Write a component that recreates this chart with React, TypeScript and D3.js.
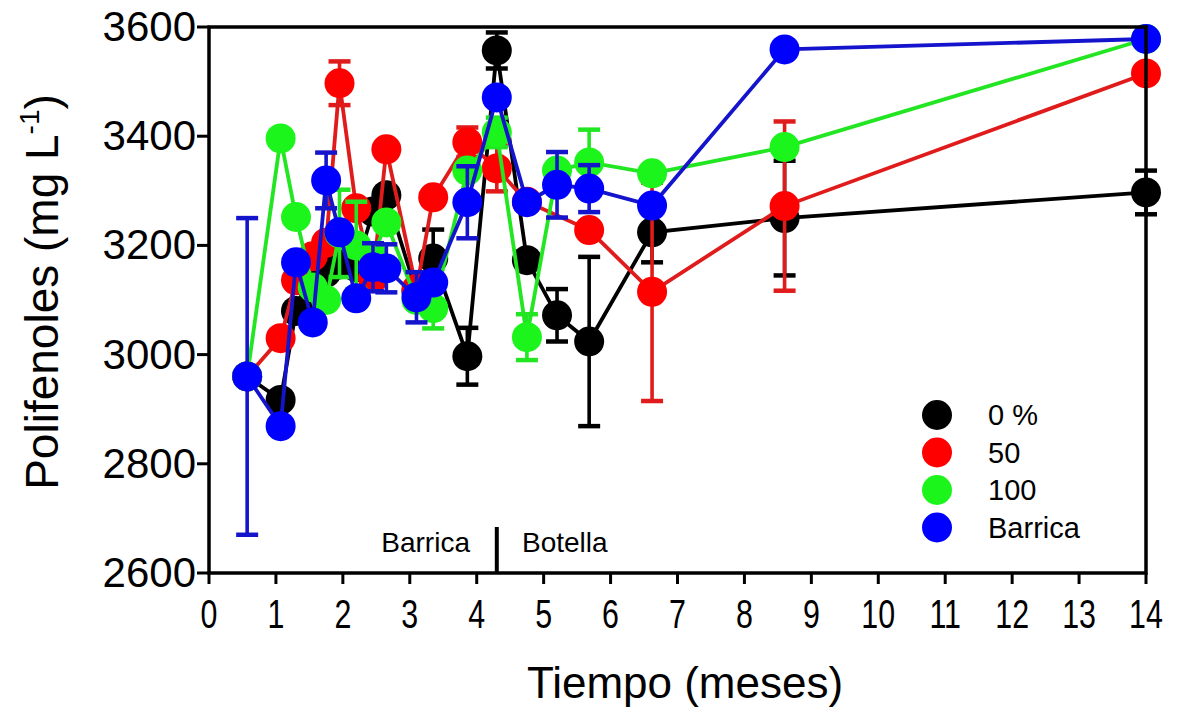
import React from "react";
import * as d3 from "d3";

const months = [0.57, 1.07, 1.3, 1.55, 1.75, 1.95, 2.2, 2.45, 2.65, 3.1, 3.35, 3.86, 4.3, 4.75, 5.2, 5.68, 6.62, 8.6, 14];

const black = [2960, 2917, 3080, 3096, 3150, 3165, 3160, 3262, 3292, 3115, 3176, 2997, 3557, 3173, 3072, 3024, 3224, 3250, 3297];
const blackErr = [0, 0, 0, 0, 0, 0, 0, 0, 0, 0, 53, 52, 33, 0, 48, 155, 55, 105, 40];

const red = [2960, 3030, 3136, 3180, 3205, 3497, 3268, 3140, 3376, 3120, 3288, 3389, 3341, 3280, null, 3228, 3115, 3272, 3515];
const redErr = [0, 0, 0, 0, 0, 40, 0, 0, 0, 0, 0, 27, 42, 0, 0, 0, 200, 155, 0];

const green = [2960, 3396, 3252, 3123, 3100, 3222, 3200, 3180, 3242, 3100, 3085, 3337, 3407, 3032, 3337, 3352, 3332, 3380, 3578];
const greenErr = [0, 0, 0, 0, 0, 80, 80, 0, 0, 0, 37, 0, 27, 42, 0, 60, 0, 0, 0];

const blue = [2960, 2869, 3169, 3059, 3319, 3224, 3103, 3160, 3158, 3105, 3132, 3279, 3471, 3279, 3311, 3304, 3273, 3559, 3578];
const blueErr = [290, 0, 0, 0, 51, 0, 0, 44, 44, 46, 0, 66, 0, 0, 60, 43, 0, 0, 0];

const seriesNames = ["0 %", "50", "100", "Barrica"];
const xTicks = [0, 1, 2, 3, 4, 5, 6, 7, 8, 9, 10, 11, 12, 13, 14];
const yTicks = [2600, 2800, 3000, 3200, 3400, 3600];
const divider = 4.3;

type Pt = { t: number; v: number; e: number };

const series = [
  { name: seriesNames[0], values: black, err: blackErr, fill: "#000000", line: "#000000" },
  { name: seriesNames[1], values: red, err: redErr, fill: "#ff0000", line: "#e01b1b" },
  { name: seriesNames[2], values: green, err: greenErr, fill: "#1cf51c", line: "#22e622" },
  { name: seriesNames[3], values: blue, err: blueErr, fill: "#0000ff", line: "#1414cc" },
].map((s) => ({
  ...s,
  pts: s.values
    .map((v, i) => (v == null ? null : { t: months[i], v: v as number, e: s.err[i] }))
    .filter((p) => p !== null) as Pt[],
}));

export default function App() {
  const W = 1180, H = 708;
  const x = d3.scaleLinear().domain([0, 14]).range([209, 1146]);
  const y = d3.scaleLinear().domain([2600, 3600]).range([573, 27]);
  const font = "'Liberation Sans', Arial, sans-serif";
  const r = 15;
  const line = d3.line<Pt>().x((p) => x(p.t)).y((p) => y(p.v));

  return (
    <svg width={W} height={H} style={{ position: "absolute", left: 0, top: 0, background: "#fff" }} fontFamily={font}>
      {series.map((s) => (
        <g key={s.name}>
          <path d={line(s.pts) || ""} fill="none" stroke={s.line} strokeWidth={3.8} />
          {s.pts.map((p, i) =>
            p.e > 0 ? (
              <g key={"e" + i} stroke={s.line} strokeWidth={3.6}>
                <line x1={x(p.t)} x2={x(p.t)} y1={y(p.v - p.e)} y2={y(p.v + p.e)} />
                <line x1={x(p.t) - 11} x2={x(p.t) + 11} y1={y(p.v + p.e)} y2={y(p.v + p.e)} strokeWidth={4.5} />
                <line x1={x(p.t) - 11} x2={x(p.t) + 11} y1={y(p.v - p.e)} y2={y(p.v - p.e)} strokeWidth={4.5} />
              </g>
            ) : null
          )}
          {s.pts.map((p, i) => (
            <circle key={"c" + i} cx={x(p.t)} cy={y(p.v)} r={r} fill={s.fill} />
          ))}
        </g>
      ))}

      <rect x={x(0)} y={y(3600)} width={x(14) - x(0)} height={y(2600) - y(3600)} fill="none" stroke="#000" strokeWidth={3.5} />

      {xTicks.map((t) => (
        <g key={"xt" + t}>
          <line x1={x(t)} x2={x(t)} y1={y(2600)} y2={y(2600) + 11} stroke="#000" strokeWidth={3} />
          <text x={x(t)} y={628} textAnchor="middle" fontSize={40} fill="#000" transform={`translate(${x(t)},0) scale(0.76,1) translate(${-x(t)},0)`}>{t}</text>
        </g>
      ))}
      {yTicks.map((t) => (
        <g key={"yt" + t}>
          <line x1={x(0) - 12} x2={x(0)} y1={y(t)} y2={y(t)} stroke="#000" strokeWidth={3} />
          <text x={196} y={y(t) + 14} textAnchor="end" fontSize={42} fill="#000">{t}</text>
        </g>
      ))}

      <text x={685} y={698} textAnchor="middle" fontSize={44} fill="#000">Tiempo (meses)</text>
      <text transform={`translate(58,292) rotate(-90)`} textAnchor="middle" fontSize={46} fill="#000">
        Polifenoles (mg L<tspan fontSize={28} dy={-19}>-1</tspan><tspan dy={19}>)</tspan>
      </text>

      <line x1={x(divider)} x2={x(divider)} y1={527} y2={573} stroke="#000" strokeWidth={4} />
      <text x={470} y={552} textAnchor="end" fontSize={28} fill="#000">Barrica</text>
      <text x={522} y={552} textAnchor="start" fontSize={28} fill="#000">Botella</text>

      {series.map((s, i) => (
        <g key={"lg" + i}>
          <circle cx={937} cy={415 + i * 37.5} r={15} fill={s.fill} />
          <text x={988} y={415 + i * 37.5 + 10} fontSize={29} fill="#000">{s.name}</text>
        </g>
      ))}
    </svg>
  );
}
